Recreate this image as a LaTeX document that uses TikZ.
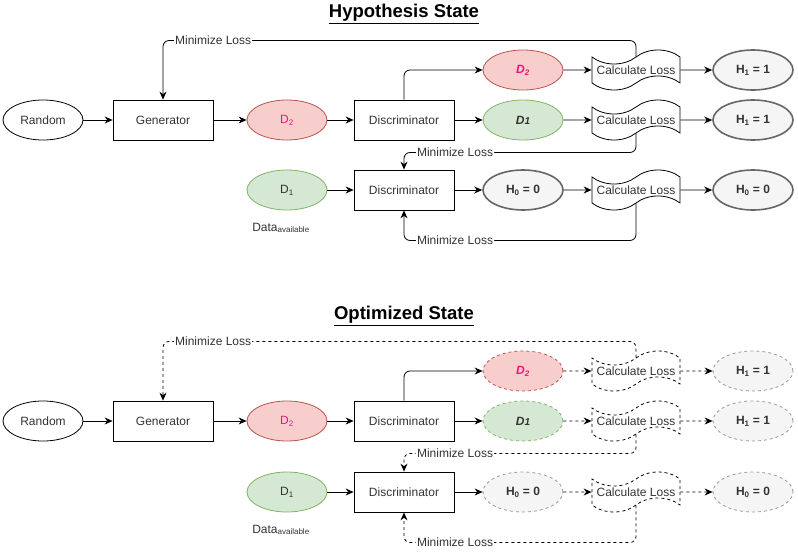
\documentclass[tikz,border=0pt]{standalone}
\usepackage{fontspec}
\setmainfont{Liberation Sans}
\usetikzlibrary{shapes.geometric,shapes.symbols,arrows.meta}

\definecolor{redfill}{HTML}{F8CECC}
\definecolor{redline}{HTML}{B85450}
\definecolor{greenfill}{HTML}{D5E8D4}
\definecolor{greenline}{HTML}{82B366}
\definecolor{grayfill}{HTML}{F5F5F5}
\definecolor{grayline}{HTML}{666666}
\definecolor{lightline}{HTML}{999999}
\definecolor{pinktext}{HTML}{E6177F}
\definecolor{textgray}{HTML}{333333}

\tikzset{
  every node/.style={font=\fontsize{12}{14}\selectfont, text=textgray},
  procbox/.style={draw, rectangle, minimum width=100pt, minimum height=40pt, line width=0.8pt},
  oval/.style={draw, ellipse, minimum width=80pt, minimum height=40pt, line width=0.8pt},
  fakedata/.style={oval, fill=redfill, draw=redline, text=pinktext},
  realdata/.style={oval, fill=greenfill, draw=greenline},
  hypo/.style={oval, fill=grayfill, draw=grayline, line width=1.6pt, font=\fontsize{12}{14}\selectfont\bfseries},
  hypodash/.style={oval, fill=grayfill, draw=lightline, dashed, font=\fontsize{12}{14}\selectfont\bfseries},
  losstape/.style={draw, tape, minimum width=88pt, minimum height=40pt, tape bend height=14pt, inner sep=0pt, line width=0.8pt},
  flow/.style={-{Stealth[length=8pt,width=7pt]}, line width=0.8pt, rounded corners=6pt},
  dashed/.style={dash pattern=on 3pt off 3pt},
  lbl/.style={fill=white, inner sep=1pt},
  heading/.style={font=\fontsize{18.5}{20}\selectfont\bfseries, text=black},
}

\begin{document}
\begin{tikzpicture}[x=1pt, y=-1pt]
  \useasboundingbox (0,0) rectangle (798,554);

  % ---------------- Hypothesis State ----------------
  \node[heading] (titleH) at (404,14) {\underline{Hypothesis State}};

  % first row (fake branch)
  \node[fakedata, font=\fontsize{12}{14}\selectfont\bfseries\itshape] (fakeoutH) at (523,70) {D\textsubscript{2}};
  \node[losstape] (lossaH) at (636,70) {Calculate Loss};
  \node[hypo] (hypaH) at (753,70) {H\textsubscript{1} = 1};

  % second row (generator path)
  \node[oval] (rndH) at (43,120) {Random};
  \node[procbox] (genH) at (163,120) {Generator};
  \node[fakedata] (fakeH) at (287,120) {D\textsubscript{2}};
  \node[procbox] (discH) at (404,120) {Discriminator};
  \node[realdata, font=\fontsize{12}{14}\selectfont\bfseries\itshape] (realoutH) at (523,120) {D{\fontsize{10}{12}\selectfont 1}};
  \node[losstape] (lossbH) at (636,120) {Calculate Loss};
  \node[hypo] (hypbH) at (753,120) {H\textsubscript{1} = 1};

  % third row (real data)
  \node[realdata] (realH) at (287,190) {D\textsubscript{1}};
  \node (availH) at (281,228) {Data\textsubscript{available}};
  \node[procbox] (disctH) at (404,190) {Discriminator};
  \node[hypo] (nullH) at (523,190) {H\textsubscript{0} = 0};
  \node[losstape] (losscH) at (636,190) {Calculate Loss};
  \node[hypo] (hypcH) at (753,190) {H\textsubscript{0} = 0};

  % connectors
  \draw[flow] (rndH) -- (genH);
  \draw[flow] (genH) -- (fakeH);
  \draw[flow] (fakeH) -- (discH);
  \draw[flow] (discH) -- (realoutH);
  \draw[flow] (discH.north) |- (fakeoutH.west);
  \draw[flow] (fakeoutH) -- (lossaH);
  \draw[flow] (lossaH) -- (hypaH);
  \draw[flow] (realoutH) -- (lossbH);
  \draw[flow] (lossbH) -- (hypbH);
  \draw[flow] (realH) -- (disctH);
  \draw[flow] (disctH) -- (nullH);
  \draw[flow] (nullH) -- (losscH);
  \draw[flow] (losscH) -- (hypcH);
  \draw[flow] (lossaH.north) -- ++(0,-16) -| node[lbl, pos=0.447] {Minimize Loss} (genH.north);
  \draw[flow] (lossbH.south) -- ++(0,19) -| node[lbl, pos=0.39] {Minimize Loss} (disctH.north);
  \draw[flow] (losscH.south) -- ++(0,37) -| node[lbl, pos=0.39] {Minimize Loss} (disctH.south);

  % ---------------- Optimized State ----------------
  \node[heading] (titleO) at (404,316) {\underline{Optimized State}};

  % first row (fake branch)
  \node[fakedata, dashed, font=\fontsize{12}{14}\selectfont\bfseries\itshape] (fakeoutO) at (523,371) {D\textsubscript{2}};
  \node[losstape, dashed] (lossaO) at (636,371) {Calculate Loss};
  \node[hypodash] (hypaO) at (753,371) {H\textsubscript{1} = 1};

  % second row (generator path)
  \node[oval] (rndO) at (43,421) {Random};
  \node[procbox] (genO) at (163,421) {Generator};
  \node[fakedata] (fakeO) at (287,421) {D\textsubscript{2}};
  \node[procbox] (discO) at (404,421) {Discriminator};
  \node[realdata, dashed, font=\fontsize{12}{14}\selectfont\bfseries\itshape] (realoutO) at (523,421) {D{\fontsize{10}{12}\selectfont 1}};
  \node[losstape, dashed] (lossbO) at (636,421) {Calculate Loss};
  \node[hypodash] (hypbO) at (753,421) {H\textsubscript{1} = 1};

  % third row (real data)
  \node[realdata] (realO) at (287,492) {D\textsubscript{1}};
  \node (availO) at (281,530) {Data\textsubscript{available}};
  \node[procbox] (disctO) at (404,492) {Discriminator};
  \node[hypodash] (nullO) at (523,492) {H\textsubscript{0} = 0};
  \node[losstape, dashed] (losscO) at (636,492) {Calculate Loss};
  \node[hypodash] (hypcO) at (753,492) {H\textsubscript{0} = 0};

  % connectors
  \draw[flow] (rndO) -- (genO);
  \draw[flow] (genO) -- (fakeO);
  \draw[flow] (fakeO) -- (discO);
  \draw[flow] (discO) -- (realoutO);
  \draw[flow] (discO.north) |- (fakeoutO.west);
  \draw[flow, dashed] (fakeoutO) -- (lossaO);
  \draw[flow, dashed] (lossaO) -- (hypaO);
  \draw[flow, dashed] (realoutO) -- (lossbO);
  \draw[flow, dashed] (lossbO) -- (hypbO);
  \draw[flow] (realO) -- (disctO);
  \draw[flow] (disctO) -- (nullO);
  \draw[flow, dashed] (nullO) -- (losscO);
  \draw[flow, dashed] (losscO) -- (hypcO);
  \draw[flow, dashed] (lossaO.north) -- ++(0,-16) -| node[lbl, pos=0.447] {Minimize Loss} (genO.north);
  \draw[flow, dashed] (lossbO.south) -- ++(0,19) -| node[lbl, pos=0.39] {Minimize Loss} (disctO.north);
  \draw[flow, dashed] (losscO.south) -- ++(0,37) -| node[lbl, pos=0.39] {Minimize Loss} (disctO.south);
\end{tikzpicture}
\end{document}
